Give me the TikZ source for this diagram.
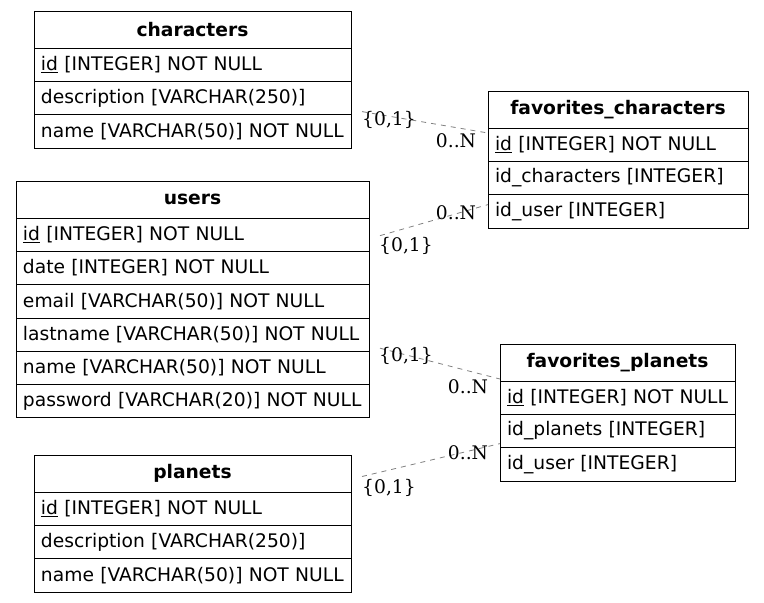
\documentclass[tikz,border=0pt]{standalone}
\usepackage{fontspec}
\setmainfont{DejaVu Sans}
\newfontfamily\lblfont{DejaVu Serif}
\usetikzlibrary{positioning, calc}
\definecolor{RelGray}{rgb}{0.5, 0.5, 0.5}

\begin{document}
\begin{tikzpicture}[x=1pt, y=-1pt,
    hdr/.style={draw, line width=0.8pt, outer sep=0pt, text width=#1, align=center,
        minimum height=37pt, inner xsep=7pt, inner ysep=0pt,
        font=\fontsize{18.7}{21}\selectfont\bfseries},
    fld/.style={draw, line width=0.8pt, outer sep=0pt, text width=#1, align=left,
        minimum height=33.3pt, inner xsep=7pt, inner ysep=0pt,
        font=\fontsize{18.7}{21}\selectfont,
        execute at begin node=\mbox\bgroup, execute at end node=\egroup},
    rel/.style={draw=RelGray, line width=0.8pt, dash pattern=on 5pt off 5pt},
    card/.style={inner sep=0pt, font=\fontsize{18.7}{21}\selectfont\lblfont}]
        \useasboundingbox (0,0) rectangle (764,603);

        % Table characters
        \node[hdr=303pt] (chars) at (192.5,29.5) {characters};
        \node[fld=303pt, below=0pt of chars] (chars-id) {\underline{id} [INTEGER] NOT NULL};
        \node[fld=303pt, below=0pt of chars-id] (chars-desc) {description [VARCHAR(250)]};
        \node[fld=303pt, below=0pt of chars-desc] (chars-name) {name [VARCHAR(50)] NOT NULL};

        % Table favorites_characters
        \node[hdr=246pt] (favc) at (618,109.5) {favorites\_characters};
        \node[fld=246pt, below=0pt of favc] (favc-id) {\underline{id} [INTEGER] NOT NULL};
        \node[fld=246pt, below=0pt of favc-id] (favc-chars) {id\_characters [INTEGER]};
        \node[fld=246pt, below=0pt of favc-chars] (favc-user) {id\_user [INTEGER]};

        % Table users
        \node[hdr=339pt] (users) at (192.5,199.5) {users};
        \node[fld=339pt, below=0pt of users] (users-id) {\underline{id} [INTEGER] NOT NULL};
        \node[fld=339pt, below=0pt of users-id] (users-date) {date [INTEGER] NOT NULL};
        \node[fld=339pt, below=0pt of users-date] (users-email) {email [VARCHAR(50)] NOT NULL};
        \node[fld=339pt, below=0pt of users-email] (users-last) {lastname [VARCHAR(50)] NOT NULL};
        \node[fld=339pt, below=0pt of users-last] (users-name) {name [VARCHAR(50)] NOT NULL};
        \node[fld=339pt, below=0pt of users-name] (users-pass) {password [VARCHAR(20)] NOT NULL};

        % Table favorites_planets
        \node[hdr=221pt] (favp) at (617.5,362.5) {favorites\_planets};
        \node[fld=221pt, below=0pt of favp] (favp-id) {\underline{id} [INTEGER] NOT NULL};
        \node[fld=221pt, below=0pt of favp-id] (favp-planets) {id\_planets [INTEGER]};
        \node[fld=221pt, below=0pt of favp-planets] (favp-user) {id\_user [INTEGER]};

        % Table planets
        \node[hdr=303pt] (planets) at (192.5,473.5) {planets};
        \node[fld=303pt, below=0pt of planets] (planets-id) {\underline{id} [INTEGER] NOT NULL};
        \node[fld=303pt, below=0pt of planets-id] (planets-desc) {description [VARCHAR(250)]};
        \node[fld=303pt, below=0pt of planets-desc] (planets-name) {name [VARCHAR(50)] NOT NULL};

        % Relation characters -- favorites_characters
        \coordinate (r1a) at ($(chars-desc.south east)+(11,-3)$);
        \coordinate (r1b) at ($(favc-id.north west)+(0,5)$);
        \draw[rel] (r1a) -- (r1b);
        \node[card] (r1-one) at ($(r1a)+(27,8)$) {\{0,1\}};
        \node[card] (r1-many) at ($(r1b)+(-32,8)$) {0..N};

        % Relation users -- favorites_characters
        \coordinate (r2a) at ($(users-id.east)+(11,1)$);
        \coordinate (r2b) at ($(favc-user.north west)+(0,10)$);
        \draw[rel] (r2a) -- (r2b);
        \node[card] (r2-one) at ($(r2a)+(26,10)$) {\{0,1\}};
        \node[card] (r2-many) at ($(r2b)+(-32,8)$) {0..N};

        % Relation users -- favorites_planets
        \coordinate (r3a) at ($(users-last.south east)+(11,-3)$);
        \coordinate (r3b) at ($(favp-id.north west)+(0,-2)$);
        \draw[rel] (r3a) -- (r3b);
        \node[card] (r3-one) at ($(r3a)+(26,8)$) {\{0,1\}};
        \node[card] (r3-many) at ($(r3b)+(-32,8)$) {0..N};

        % Relation planets -- favorites_planets
        \coordinate (r4a) at ($(planets.east)+(11,3)$);
        \coordinate (r4b) at ($(favp-user.north west)+(0,-4)$);
        \draw[rel] (r4a) -- (r4b);
        \node[card] (r4-one) at ($(r4a)+(27,11)$) {\{0,1\}};
        \node[card] (r4-many) at ($(r4b)+(-32,9)$) {0..N};
    \end{tikzpicture}
\end{document}
